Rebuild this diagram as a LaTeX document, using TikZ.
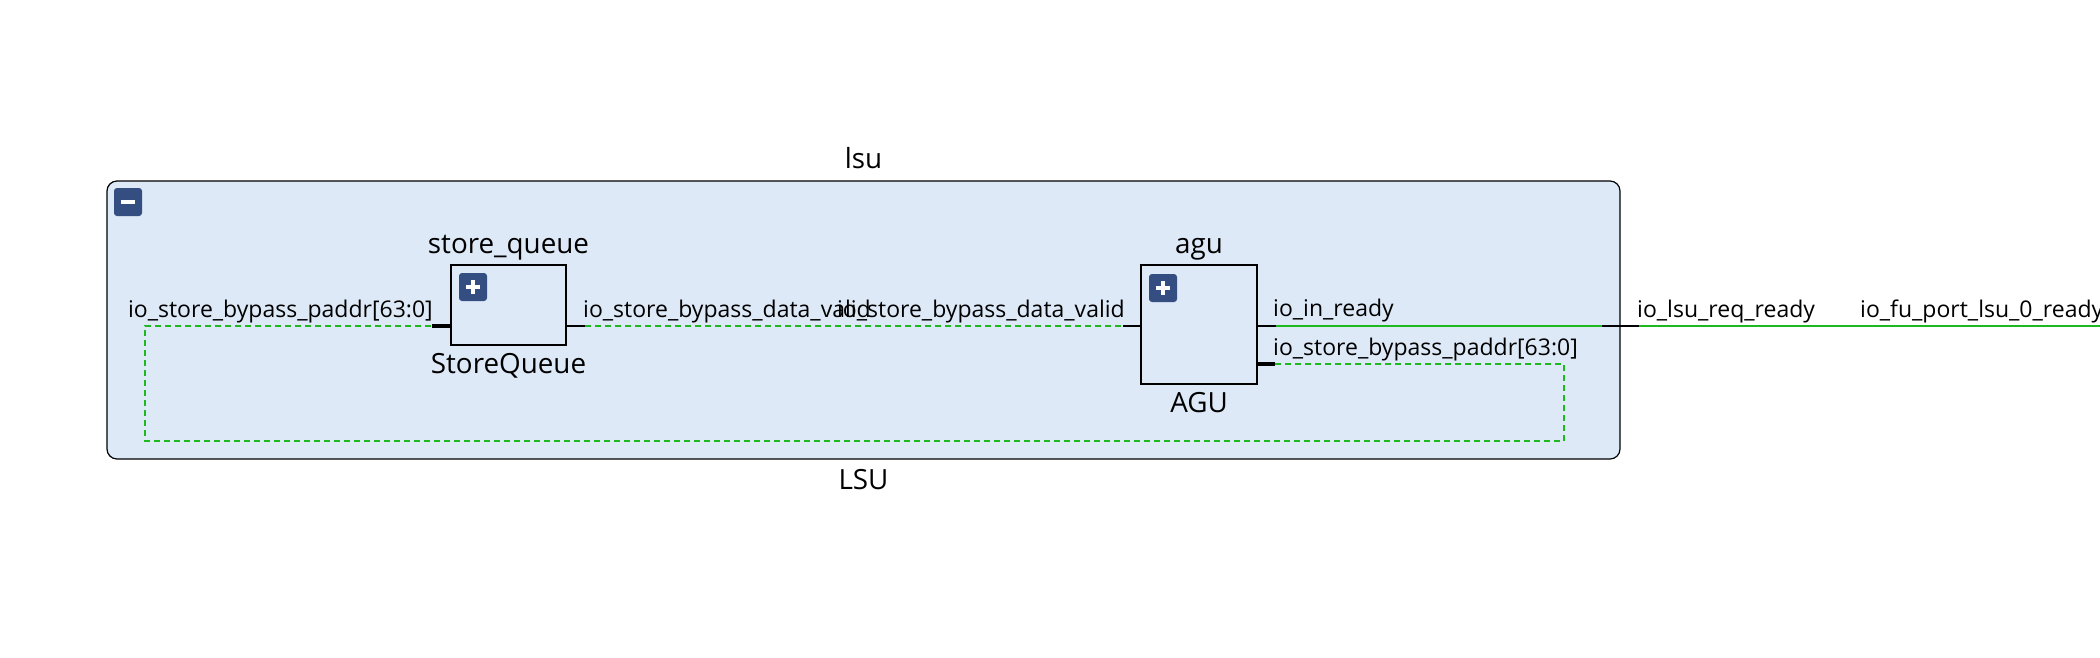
\documentclass[tikz,border=0pt]{standalone}
\usepackage{fontspec}
\setmainfont{Open Sans}
\definecolor{lsubg}{RGB}{222,233,247}
\definecolor{btnblue}{RGB}{52,78,130}
\definecolor{netgreen}{RGB}{30,185,30}

\tikzset{
  blk/.style={draw=black,line width=1.2pt,fill=lsubg,inner sep=0pt},
  btn/.style={fill=btnblue,rounded corners=3pt,minimum size=28pt,inner sep=0pt},
  btnmark/.style={white,line width=4pt},
  pinlbl/.style={font=\fontsize{23}{27}\selectfont,inner sep=0pt},
  celllbl/.style={font=\fontsize{27.8}{32}\selectfont,inner sep=0pt,anchor=base},
  net/.style={netgreen,line width=1.3pt},
  dnet/.style={net,dash pattern=on 6pt off 4pt},
  stub/.style={black,line width=1.2pt},
  bus/.style={black,line width=3.8pt},
}

\begin{document}
\begin{tikzpicture}[x=1pt,y=-1pt]
    \useasboundingbox (0,0) rectangle (2100,657);
    \clip (0,0) rectangle (2100,657);
    %
    \node[blk,rounded corners=10pt,minimum width=1513pt,minimum height=278pt] (lsu) at (863.5,320) {};
    \node[celllbl] (lsuname) at (863.5,168) {lsu};
    \node[celllbl] (lsutype) at (863.5,489) {LSU};
    \node[btn] (lsubtn) at (128,202) {};
    \draw[btnmark] ([xshift=-7pt]lsubtn.center) -- ([xshift=7pt]lsubtn.center);
    %
    \node[blk,minimum width=115pt,minimum height=80pt] (sq) at (508.5,305) {};
    \node[celllbl] (sqname) at (508.5,253) {store\_queue};
    \node[celllbl] (sqtype) at (508.5,373) {StoreQueue};
    \node[btn] (sqbtn) at (473,287) {};
    \draw[btnmark] ([xshift=-7pt]sqbtn.center) -- ([xshift=7pt]sqbtn.center);
    \draw[btnmark] ([yshift=-7pt]sqbtn.center) -- ([yshift=7pt]sqbtn.center);
    %
    \node[blk,minimum width=116pt,minimum height=119pt] (agu) at (1199,324.5) {};
    \node[celllbl] (aguname) at (1199,253) {agu};
    \node[celllbl] (agutype) at (1199,412) {AGU};
    \node[btn] (agubtn) at (1163,288) {};
    \draw[btnmark] ([xshift=-7pt]agubtn.center) -- ([xshift=7pt]agubtn.center);
    \draw[btnmark] ([yshift=-7pt]agubtn.center) -- ([yshift=7pt]agubtn.center);
    %
    \coordinate (sqpaddr) at (432,326);
    \coordinate (sqvalid) at (585,326);
    \coordinate (aguvalid) at (1123,326);
    \coordinate (aguready) at (1276,326);
    \coordinate (agupaddr) at (1275,364);
    \coordinate (lsuin) at (1602,326);
    \coordinate (lsuout) at (1639,326);
    \coordinate (topout) at (2100,326);
    %
    \draw[bus] (sqpaddr) -- (sq.west |- sqpaddr);
    \draw[stub] (sq.east |- sqvalid) -- (sqvalid);
    \draw[stub] (aguvalid) -- (agu.west |- aguvalid);
    \draw[stub] (agu.east |- aguready) -- (aguready);
    \draw[bus] (agu.east |- agupaddr) -- (agupaddr);
    \draw[stub] (lsuin) -- (lsuout);
    %
    \draw[dnet] (sqvalid) -- (aguvalid);
    \draw[net] (aguready) -- (lsuin);
    \draw[net] (lsuout) -- (topout);
    \draw[dnet] (agupaddr) -- (1564,364) -- (1564,441) -- (145,441) -- (145,326) -- (sqpaddr);
    %
    \node[pinlbl,anchor=base east] (sqpaddrlbl) at (433,317) {io\_store\_bypass\_paddr[63:0]};
    \node[pinlbl,anchor=base west] (sqvalidlbl) at (583,317) {io\_store\_bypass\_data\_valid};
    \node[pinlbl,anchor=base east] (aguvalidlbl) at (1125,317) {io\_store\_bypass\_data\_valid};
    \node[pinlbl,anchor=base west] (agureadylbl) at (1273,316) {io\_in\_ready};
    \node[pinlbl,anchor=base west] (agupaddrlbl) at (1273,355) {io\_store\_bypass\_paddr[63:0]};
    \node[pinlbl,anchor=base west] (lsureadylbl) at (1637,317) {io\_lsu\_req\_ready};
    \node[pinlbl,anchor=base west] (topreadylbl) at (1860,317) {io\_fu\_port\_lsu\_0\_ready};
    %
\end{tikzpicture}
\end{document}
